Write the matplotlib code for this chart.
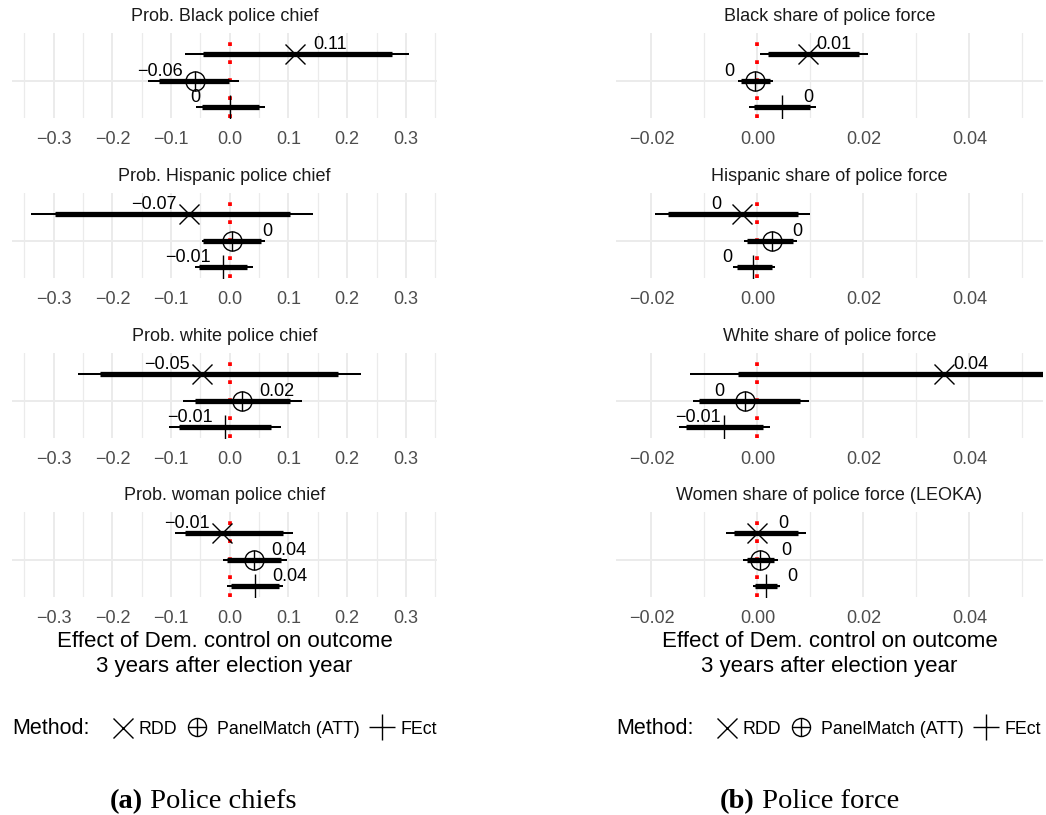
import matplotlib
matplotlib.use("Agg")
import matplotlib.pyplot as plt

plt.rcParams['font.family'] = ['Liberation Sans', 'DejaVu Sans']

# ---- data ----------------------------------------------------------------
methods = ["RDD", "PanelMatch (ATT)", "FEct"]

chief_titles = ["Prob. Black police chief", "Prob. Hispanic police chief",
                "Prob. white police chief", "Prob. woman police chief"]
# rows: RDD, PanelMatch, FEct
chief_est = [[0.111, -0.059, 0.001],
             [-0.070, 0.004, -0.012],
             [-0.048, 0.020, -0.009],
             [-0.013, 0.041, 0.043]]
chief_lo95 = [[-0.076, -0.139, -0.057],
              [-0.338, -0.048, -0.059],
              [-0.259, -0.080, -0.103],
              [-0.093, -0.011, -0.005]]
chief_hi95 = [[0.306, 0.015, 0.060],
              [0.142, 0.060, 0.039],
              [0.223, 0.123, 0.087],
              [0.108, 0.098, 0.091]]
chief_lo90 = [[-0.045, -0.120, -0.047],
              [-0.298, -0.045, -0.052],
              [-0.221, -0.059, -0.087],
              [-0.077, -0.005, 0.002]]
chief_hi90 = [[0.276, -0.002, 0.049],
              [0.103, 0.054, 0.030],
              [0.185, 0.103, 0.071],
              [0.091, 0.088, 0.083]]

force_titles = ["Black share of police force", "Hispanic share of police force",
                "White share of police force", "Women share of police force (LEOKA)"]
force_est = [[0.0096, -0.0004, 0.0046],
             [-0.0029, 0.0027, -0.0008],
             [0.0353, -0.0023, -0.0063],
             [-0.0001, 0.0005, 0.0016]]
force_lo95 = [[0.0004, -0.0037, -0.0016],
              [-0.0193, -0.0025, -0.0046],
              [-0.0128, -0.0121, -0.0149],
              [-0.0059, -0.0028, -0.0009]]
force_hi95 = [[0.0208, 0.0030, 0.0110],
              [0.0099, 0.0074, 0.0033],
              [0.0834, 0.0098, 0.0024],
              [0.0092, 0.0038, 0.0043]]
force_lo90 = [[0.0020, -0.0031, -0.0006],
              [-0.0168, -0.0019, -0.0039],
              [-0.0036, -0.0111, -0.0134],
              [-0.0045, -0.0020, -0.0004]]
force_hi90 = [[0.0192, 0.0024, 0.0099],
              [0.0076, 0.0068, 0.0027],
              [0.0742, 0.0081, 0.0011],
              [0.0077, 0.0031, 0.0037]]

chief_major = [-0.3, -0.2, -0.1, 0.0, 0.1, 0.2, 0.3]
chief_minor = [-0.35, -0.25, -0.15, -0.05, 0.05, 0.15, 0.25, 0.35]
chief_ticklabels = ["\u22120.3", "\u22120.2", "\u22120.1", "0.0", "0.1", "0.2", "0.3"]
force_major = [-0.02, 0.0, 0.02, 0.04]
force_minor = [-0.01, 0.01, 0.03, 0.05]
force_ticklabels = ["\u22120.02", "0.00", "0.02", "0.04"]

# which side (right +1 / left -1) each value label sits on
chief_sides = [[1, -1, -1], [-1, 1, -1], [-1, 1, -1], [-1, 1, 1]]
force_sides = [[1, -1, 1], [-1, 1, -1], [1, -1, -1], [1, 1, 1]]

# ---- layout (pixels) -----------------------------------------------------
W, H = 1046, 815
PX = 0.72  # points per pixel at dpi 100
ROW_Y = [1, 0, -1]
YLIM = (-1.40, 1.81)
PANEL_TOPS = [33, 193, 353, 512]
PANEL_H = 85
GRID_COL = '#EBEBEB'


def fmt(v):
    r = round(v, 2)
    if r == 0:
        return "0"
    return f"{r:g}".replace("-", "\u2212")


def draw_panel(ax, est, lo95, hi95, lo90, hi90, title, xlim, major, minor,
               ticklabels, sides, dx):
    ax.set_xlim(*xlim)
    ax.set_ylim(*YLIM)
    for s in ax.spines.values():
        s.set_visible(False)
    ax.set_xticks(major)
    ax.set_xticklabels(ticklabels)
    ax.set_xticks(minor, minor=True)
    ax.set_yticks([0])
    ax.set_yticklabels([])
    ax.tick_params(axis='x', which='both', length=0, pad=9.6,
                   labelsize=13, labelcolor='#4D4D4D')
    ax.tick_params(axis='y', length=0)
    ax.grid(which='major', color=GRID_COL, lw=1.4)
    ax.grid(which='minor', axis='x', color=GRID_COL, lw=0.9)
    ax.set_axisbelow(True)
    ax.set_title(title, fontsize=13, color='#1A1A1A', pad=9)

    # red dotted reference line at zero
    ax.plot([0, 0], [YLIM[0], YLIM[1]], color='red', lw=2.7,
            linestyle=(0, (1.0, 3.8)), zorder=1)

    for i, y in enumerate(ROW_Y):
        ax.hlines(y, lo95[i], hi95[i], color='black', lw=1.45, zorder=2,
                  capstyle='butt')
        ax.hlines(y, lo90[i], hi90[i], color='black', lw=3.8, zorder=2,
                  capstyle='butt')
    ax.plot(est[0], ROW_Y[0], marker='x', ms=14.4, mew=1.0, color='black',
            ls='none', zorder=3)
    ax.plot(est[1], ROW_Y[1], marker='o', ms=13.8, mew=1.0, mfc='none',
            mec='black', ls='none', zorder=3)
    ax.plot(est[1], ROW_Y[1], marker='+', ms=13.8, mew=1.0, color='black',
            ls='none', zorder=3)
    ax.plot(est[2], ROW_Y[2], marker='+', ms=18, mew=1.0, color='black',
            ls='none', zorder=3)

    for i, y in enumerate(ROW_Y):
        ax.annotate(fmt(est[i]), xy=(est[i], y),
                    xytext=(sides[i] * dx * PX, 5.0 * PX),
                    textcoords='offset points', ha='center', va='baseline',
                    fontsize=13, color='black', annotation_clip=False,
                    zorder=4)


fig = plt.figure(figsize=(W / 100, H / 100), dpi=100)

columns = [
    (12, 437, (-0.371, 0.353), chief_titles, chief_est, chief_lo95, chief_hi95,
     chief_lo90, chief_hi90, chief_major, chief_minor, chief_ticklabels,
     chief_sides, 35),
    (616, 1043, (-0.0267, 0.0539), force_titles, force_est, force_lo95,
     force_hi95, force_lo90, force_hi90, force_major, force_minor,
     force_ticklabels, force_sides, 26),
]

for (x0, x1, xlim, titles, est, lo95, hi95, lo90, hi90, major, minor,
     tlabels, sides, dx) in columns:
    for p in range(4):
        top = PANEL_TOPS[p]
        ax = fig.add_axes([x0 / W, 1 - (top + PANEL_H) / H,
                           (x1 - x0) / W, PANEL_H / H])
        draw_panel(ax, est[p], lo95[p], hi95[p], lo90[p], hi90[p], titles[p],
                   xlim, major, minor, tlabels, sides[p], dx)

# ---- overlay for axis titles, legends and captions ------------------------
ov = fig.add_axes([0, 0, 1, 1])
ov.set_xlim(0, W)
ov.set_ylim(H, 0)
ov.axis('off')
ov.patch.set_visible(False)

for x0, x1 in [(12, 437), (616, 1043)]:
    cx = (x0 + x1) / 2
    ov.text(cx, 646.7, "Effect of Dem. control on outcome", ha='center',
            va='baseline', fontsize=16, color='black')
    ov.text(cx, 671.7, "3 years after election year", ha='center',
            va='baseline', fontsize=16, color='black')

for shift in [0, 604]:
    ov.text(12 + shift, 734, "Method:", ha='left', va='baseline',
            fontsize=15.5, color='black')
    ov.plot(123 + shift, 727.5, marker='x', ms=14.4, mew=1.0, color='black')
    ov.text(138 + shift, 733.5, methods[0], ha='left', va='baseline',
            fontsize=12.8, color='black')
    ov.plot(197 + shift, 727, marker='o', ms=13, mew=1.0, mfc='none',
            mec='black')
    ov.plot(197 + shift, 727, marker='+', ms=13, mew=1.0, color='black')
    ov.text(217 + shift, 733.5, methods[1], ha='left', va='baseline',
            fontsize=12.8, color='black')
    ov.plot(382 + shift, 727, marker='+', ms=19, mew=1.0, color='black')
    ov.text(400 + shift, 733.5, methods[2], ha='left', va='baseline',
            fontsize=12.8, color='black')

renderer = fig.canvas.get_renderer()
for x_left, tag, rest in [(110, "(a)", " Police chiefs"),
                          (720, "(b)", " Police force")]:
    t = ov.text(x_left, 807.7, tag, ha='left', va='baseline', fontsize=20.5,
                fontweight='bold', family='Liberation Serif', color='black')
    w = t.get_window_extent(renderer).width
    ov.text(x_left + w, 807.7, rest, ha='left', va='baseline', fontsize=20.5,
            family='Liberation Serif', color='black')

fig.savefig("out.png", dpi=100)
